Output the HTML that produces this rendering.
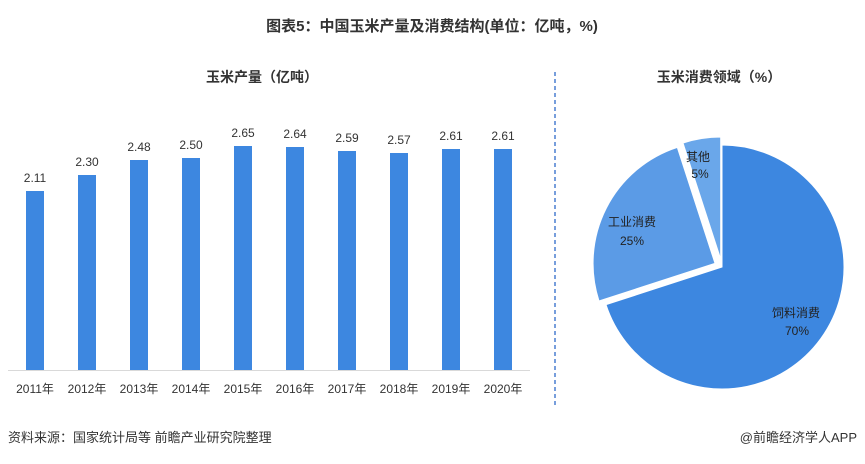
<!DOCTYPE html><html><head><meta charset="utf-8"><style>
body{margin:0;background:#fff;font-family:"Liberation Sans","Noto Sans CJK SC",sans-serif;}
svg text{font-family:"Liberation Sans","Noto Sans CJK SC",sans-serif;}
</style></head><body>
<svg width="865" height="459" viewBox="0 0 865 459" xmlns="http://www.w3.org/2000/svg">
<text x="432" y="31" text-anchor="middle" font-size="15" font-weight="bold" fill="#333">图表5：中国玉米产量及消费结构(单位：亿吨，%)</text>
<text x="262" y="82" text-anchor="middle" font-size="14" font-weight="bold" fill="#333">玉米产量（亿吨）</text>
<text x="719" y="82" text-anchor="middle" font-size="14" font-weight="bold" fill="#333">玉米消费领域（%）</text>
<line x1="555" y1="72" x2="555" y2="408" stroke="#4a7fd0" stroke-width="1.5" stroke-dasharray="4,3"/>
<line x1="8" y1="370.5" x2="530" y2="370.5" stroke="#d9d9d9" stroke-width="1"/>
<g fill="#3d87e0">
<rect x="26" y="191" width="18" height="179"/>
<rect x="78" y="175" width="18" height="195"/>
<rect x="130" y="160" width="18" height="210"/>
<rect x="182" y="158" width="18" height="212"/>
<rect x="234" y="146" width="18" height="224"/>
<rect x="286" y="147" width="18" height="223"/>
<rect x="338" y="151" width="18" height="219"/>
<rect x="390" y="153" width="18" height="217"/>
<rect x="442" y="149" width="18" height="221"/>
<rect x="494" y="149" width="18" height="221"/>
</g>
<g font-size="12" fill="#333" text-anchor="middle">
<text x="35" y="182">2.11</text><text x="87" y="166">2.30</text><text x="139" y="151">2.48</text><text x="191" y="149">2.50</text><text x="243" y="137">2.65</text><text x="295" y="138">2.64</text><text x="347" y="142">2.59</text><text x="399" y="144">2.57</text><text x="451" y="140">2.61</text><text x="503" y="140">2.61</text>
</g>
<g font-size="12" fill="#333" text-anchor="middle">
<text x="35" y="393">2011年</text><text x="87" y="393">2012年</text><text x="139" y="393">2013年</text><text x="191" y="393">2014年</text><text x="243" y="393">2015年</text><text x="295" y="393">2016年</text><text x="347" y="393">2017年</text><text x="399" y="393">2018年</text><text x="451" y="393">2019年</text><text x="503" y="393">2020年</text>
</g>
<path d="M722,267 L722,145 A122,122 0 1 1 606,304.7 Z" fill="#3d87e0" stroke="#fff" stroke-width="1"/>
<path d="M715,263.4 L599,301 A122,122 0 0 1 677.3,147.4 Z" fill="#5b9be6" stroke="#fff" stroke-width="1"/>
<path d="M720.7,259.1 L683,143 A122,122 0 0 1 720.7,137 Z" fill="#6aa7ea" stroke="#fff" stroke-width="1"/>
<g font-size="12" fill="#222" text-anchor="middle">
<text x="698" y="161">其他</text><text x="700" y="178">5%</text>
<text x="632" y="226">工业消费</text><text x="632" y="245">25%</text>
<text x="796" y="317">饲料消费</text><text x="797" y="335">70%</text>
</g>
<text x="8" y="442" font-size="13" fill="#333">资料来源：国家统计局等 前瞻产业研究院整理</text>
<text x="857" y="442" font-size="13" fill="#333" text-anchor="end">@前瞻经济学人APP</text>
</svg>
</body></html>
